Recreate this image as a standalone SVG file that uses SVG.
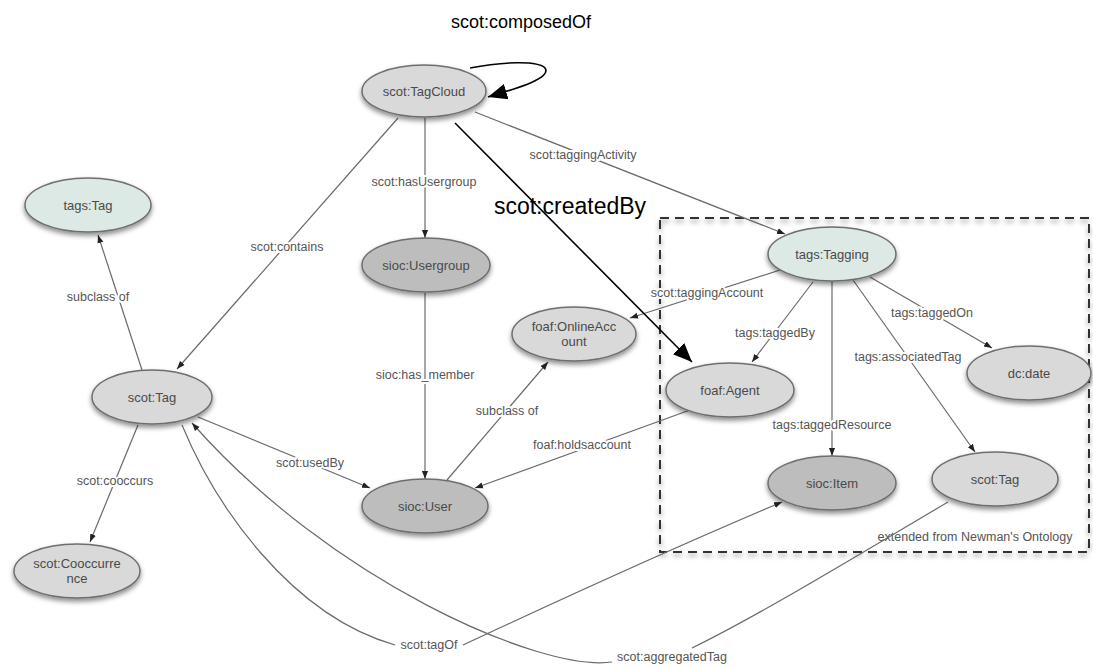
<svg xmlns="http://www.w3.org/2000/svg" width="1093" height="668" viewBox="0 0 1093 668">
<style>
.e{fill:none;stroke:#6a6a6a;stroke-width:1.2;marker-end:url(#a)}
.en{fill:none;stroke:#6a6a6a;stroke-width:1.2}
.b{fill:none;stroke:#000;stroke-width:1.6;marker-end:url(#big)}
.lt{fill:#d9d9d9;stroke:#6e6e6e;stroke-width:1.5;filter:url(#sh)}
.dk{fill:#bdbdbd;stroke:#6e6e6e;stroke-width:1.5;filter:url(#sh)}
.tl{fill:#dce9e5;stroke:#6e6e6e;stroke-width:1.5;filter:url(#sh)}
.nt{font-family:"Liberation Sans",Arial,sans-serif;font-size:13px;fill:#4a4a4a;text-anchor:middle}
.lb{font-family:"Liberation Sans",Arial,sans-serif;font-size:12.5px;fill:#555;text-anchor:middle;stroke:#fff;stroke-width:4;paint-order:stroke}
.big{font-family:"Liberation Sans",Arial,sans-serif;fill:#000;text-anchor:middle}
</style>
<defs>
<filter id="sh" x="-20%" y="-20%" width="140%" height="160%">
<feDropShadow dx="0" dy="3" stdDeviation="2.5" flood-color="#000" flood-opacity="0.45"/>
</filter>
<marker id="a" viewBox="0 0 10 10" refX="10" refY="5" markerWidth="8" markerHeight="8" markerUnits="userSpaceOnUse" orient="auto"><path d="M0,1.2 L10,5 L0,8.8 z" fill="#222"/></marker>
<marker id="big" viewBox="0 0 10 10" refX="10" refY="5" markerWidth="19" markerHeight="19" markerUnits="userSpaceOnUse" orient="auto"><path d="M0,0.8 L10,5 L0,9.2 z" fill="#000"/></marker>
</defs>
<rect width="1093" height="668" fill="#fff"/>
<g id="newman-box">
<rect x="660" y="218" width="429" height="334" fill="none" stroke="#333" stroke-width="2" stroke-dasharray="9,6" filter="url(#sh)"/>
<text class="lb" x="975" y="541">extended from Newman's Ontology</text>
</g>
<g id="connectors">
<path class="e" d="M398,118 L177,369"/>
<path class="e" d="M425,118 L425,238"/>
<path class="e" d="M475,112 L785,234"/>
<path class="e" d="M425,293 L425,479"/>
<path class="e" d="M447,480 L548,362"/>
<path class="e" d="M690,410 L475,488"/>
<path class="e" d="M198,417 L370,488"/>
<path class="e" d="M142,370 L98,235"/>
<path class="e" d="M138,425 L90,542"/>
<path class="e" d="M780,270 L630,318"/>
<path class="e" d="M813,282 L752,362"/>
<path class="e" d="M832,281 L832,456"/>
<path class="e" d="M853,280 L975,452"/>
<path class="e" d="M870,277 L992,348"/>
<path class="en" d="M182,425 C215,505 290,615 395,645"/>
<path class="e" d="M463,645 C570,595 680,545 782,502"/>
<path class="en" d="M948,502 C870,548 760,615 692,648"/>
<path class="e" d="M612,662 C540,672 330,580 192,423"/>
<text class="lb" x="287" y="251">scot:contains</text>
<text class="lb" x="424" y="186">scot:hasUsergroup</text>
<text class="lb" x="583" y="159">scot:taggingActivity</text>
<text class="lb" x="425" y="379">sioc:has_member</text>
<text class="lb" x="507" y="415">subclass of</text>
<text class="lb" x="582" y="449">foaf:holdsaccount</text>
<text class="lb" x="310" y="467">scot:usedBy</text>
<text class="lb" x="98" y="301">subclass of</text>
<text class="lb" x="115" y="485">scot:cooccurs</text>
<text class="lb" x="707" y="297">scot:taggingAccount</text>
<text class="lb" x="775" y="337">tags:taggedBy</text>
<text class="lb" x="832" y="429">tags:taggedResource</text>
<text class="lb" x="908" y="361">tags:associatedTag</text>
<text class="lb" x="932" y="317">tags:taggedOn</text>
<text class="lb" x="429" y="649">scot:tagOf</text>
<text class="lb" x="672" y="661">scot:aggregatedTag</text>
<text class="big" x="521" y="28" font-size="18">scot:composedOf</text>
<text class="big" x="570" y="214" font-size="23">scot:createdBy</text>
<path class="b" d="M470,68 C500,62 538,60 545,68 C552,78 518,88 488,97"/>
<path class="b" d="M455,123 L692,362"/>
</g>
<g id="scot-TagCloud"><ellipse class="lt" cx="424" cy="91" rx="62" ry="26"/><text class="nt" x="424" y="96">scot:TagCloud</text></g>
<g id="tags-Tag"><ellipse class="tl" cx="88" cy="205" rx="63" ry="27"/><text class="nt" x="88" y="210">tags:Tag</text></g>
<g id="scot-Tag-left"><ellipse class="lt" cx="152" cy="397" rx="60" ry="27"/><text class="nt" x="152" y="402">scot:Tag</text></g>
<g id="scot-Cooccurrence"><ellipse class="lt" cx="77" cy="571" rx="63" ry="27"/><text class="nt" x="77" y="568">scot:Cooccurre</text><text class="nt" x="77" y="583">nce</text></g>
<g id="sioc-Usergroup"><ellipse class="dk" cx="426" cy="265" rx="64" ry="27"/><text class="nt" x="426" y="270">sioc:Usergroup</text></g>
<g id="foaf-OnlineAccount"><ellipse class="lt" cx="574" cy="334" rx="62" ry="27"/><text class="nt" x="574" y="331">foaf:OnlineAcc</text><text class="nt" x="574" y="346">ount</text></g>
<g id="sioc-User"><ellipse class="dk" cx="425" cy="506" rx="63" ry="27"/><text class="nt" x="425" y="511">sioc:User</text></g>
<g id="tags-Tagging"><ellipse class="tl" cx="832" cy="254" rx="64" ry="27"/><text class="nt" x="832" y="259">tags:Tagging</text></g>
<g id="foaf-Agent"><ellipse class="lt" cx="730" cy="390" rx="64" ry="27"/><text class="nt" x="730" y="395">foaf:Agent</text></g>
<g id="dc-date"><ellipse class="lt" cx="1029" cy="373" rx="62" ry="27"/><text class="nt" x="1029" y="378">dc:date</text></g>
<g id="sioc-Item"><ellipse class="dk" cx="832" cy="483" rx="64" ry="27"/><text class="nt" x="832" y="488">sioc:Item</text></g>
<g id="scot-Tag-right"><ellipse class="lt" cx="995" cy="479" rx="63" ry="27"/><text class="nt" x="995" y="484">scot:Tag</text></g>
</svg>
